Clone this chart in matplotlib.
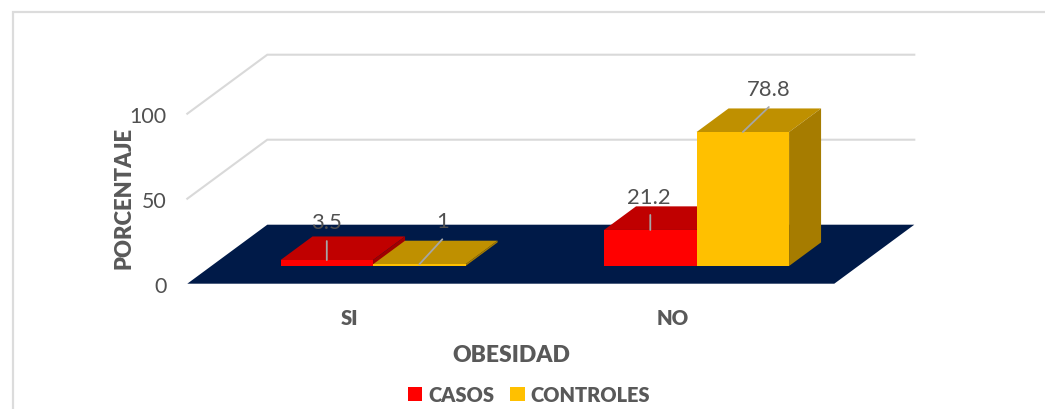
import matplotlib
matplotlib.use("Agg")
import matplotlib.pyplot as plt
from matplotlib.lines import Line2D
from matplotlib.patches import Patch

categories = ["SI", "NO"]
casos = [3.5, 21.2]
controles = [1, 78.8]
y_ticks = [0, 50, 100]

plt.rcParams['font.family'] = ['Lato', 'DejaVu Sans']
W, H = 1045, 410
TXT = '#595959'
LBL = '#505050'
GRID = '#d9d9d9'
FLOOR = '#001A48'
C_RED = ('#FF0000', '#C00000', '#A00000')
C_YEL = ('#FFC000', '#BF9000', '#A67C00')
HEAVY = 'heavy'

fig = plt.figure(figsize=(W / 100, H / 100), dpi=100)
ax = fig.add_axes([187.3 / W, (H - 284.7) / H, 647 / W, 170 / H])
ax.set_xlim(-0.5, 1.5)
ax.set_ylim(0, 100)
ax.patch.set_visible(False)
for s in ax.spines.values():
    s.set_visible(False)

# oblique projection: depth 0 (front) .. 1 (back)
DX = 80 / 323.5
DY = 59 / 1.7


def proj(x, v, d):
    return x + d * DX, v + d * DY


def face(pts, color, z):
    xs, ys = zip(*[proj(*p) for p in pts])
    ax.fill(xs, ys, color=color, lw=0, zorder=z, clip_on=False)


# floor
face([(-0.5, 0, 0), (1.5, 0, 0), (1.5, 0, 1), (-0.5, 0, 1)], FLOOR, 1)

# walls / gridlines
for t in y_ticks[1:]:
    a = proj(-0.5, t, 0)
    b = proj(-0.5, t, 1)
    c = proj(1.5, t, 1)
    ax.plot([a[0], b[0], c[0]], [a[1], b[1], c[1]], color=GRID, lw=1.5, zorder=0.5,
            clip_on=False, solid_joinstyle='miter')

# bars
BW = 0.286
D0, D1 = 0.3, 0.7
z = 2


def bar(x0, v, cols):
    global z
    x1 = x0 + BW
    face([(x0, v, D0), (x1, v, D0), (x1, v, D1), (x0, v, D1)], cols[1], z)
    face([(x1, 0, D0), (x1, v, D0), (x1, v, D1), (x1, 0, D1)], cols[2], z + 0.1)
    face([(x0, 0, D0), (x1, 0, D0), (x1, v, D0), (x0, v, D0)], cols[0], z + 0.2)
    z += 1


for i in range(len(categories)):
    bar(i - BW, casos[i], C_RED)
    bar(i, controles[i], C_YEL)

# data labels with leader lines: (leader vector, label vector) in pixels
LEADERS = {
    (0, 0): ((0, 19), (0, 38)),
    (0, 1): ((23, 25), (23, 43)),
    (1, 0): ((0, 15), (-1, 33)),
    (1, 1): ((26, 25), (26, 43)),
}
k = 0.72  # px -> pt
for i in range(len(categories)):
    for j, (series, xc) in enumerate(((casos, i - BW / 2), (controles, i + BW / 2))):
        v = series[i]
        px, py = proj(xc, v, D0)
        (lx, ly), (tx, ty) = LEADERS[(i, j)]
        ax.annotate('', xy=(px, py), xycoords='data',
                    xytext=(lx * k, ly * k), textcoords='offset points',
                    arrowprops=dict(arrowstyle='-', color='#A6A6A6', lw=1.3, shrinkA=0, shrinkB=0),
                    zorder=20, annotation_clip=False)
        ax.annotate(f'{v:g}', xy=(px, py), xycoords='data',
                    xytext=(tx * k, ty * k), textcoords='offset points',
                    ha='center', va='center', fontsize=15.8, color=LBL, zorder=21,
                    annotation_clip=False)

# axes text
ax.set_xticks(range(len(categories)), categories, fontsize=14.6, fontweight=HEAVY, color=TXT)
ax.set_yticks(y_ticks, [str(t) for t in y_ticks], fontsize=15.4, color=LBL)
ax.tick_params(axis='both', length=0)
ax.tick_params(axis='x', pad=17.5)
ax.tick_params(axis='y', pad=15)
fig.text(124 / W, 1 - 198 / H, 'PORCENTAJE', rotation=90, ha='center', va='center',
         fontsize=15.9, fontweight=HEAVY, color=TXT)
fig.text(511.5 / W, 1 - 355.5 / H, 'OBESIDAD', ha='center', va='center',
         fontsize=16.5, fontweight=HEAVY, color=TXT)

# legend
handles = [Patch(color=C_RED[0], lw=0), Patch(color=C_YEL[0], lw=0)]
fig.legend(handles, ['CASOS', 'CONTROLES'], loc='center', bbox_to_anchor=(529 / W, 1 - 395.5 / H),
           ncol=2, frameon=False, handlelength=0.72, handleheight=0.72, handletextpad=0.3,
           columnspacing=0.8, prop=dict(size=14.4, weight=HEAVY), labelcolor=TXT)

# chart frame
fig.add_artist(Line2D([12.5 / W, 12.5 / W, 1], [0, 1 - 12.5 / H, 1 - 12.5 / H],
                      color='#dcdcdc', lw=1.6, solid_joinstyle='miter'))

fig.savefig('out.png', dpi=100)
